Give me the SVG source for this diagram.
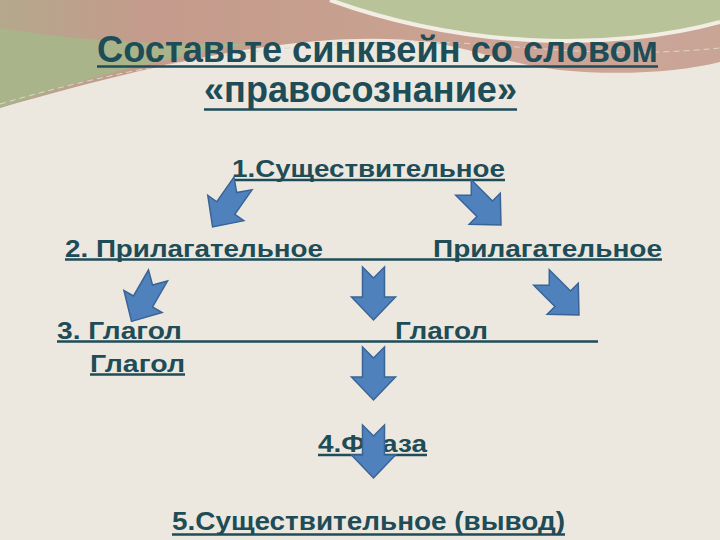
<svg xmlns="http://www.w3.org/2000/svg" xmlns:xlink="http://www.w3.org/1999/xlink" width="720" height="540" viewBox="0 0 720 540">
<style>
.t{font-family:"Liberation Sans",Arial,"DejaVu Sans",sans-serif;font-weight:bold;fill:#1e4c57}
.ttl{font-size:37px}
.lbl{font-size:23.5px}
.big{font-size:25px}
.ul{stroke:#1e4c57;stroke-width:2.5}
.arr{fill:#4f81bd;stroke:#3a6494;stroke-width:1.5;stroke-linejoin:miter}
</style>
<defs>
<linearGradient id="band" x1="0" y1="0" x2="1" y2="0">
<stop offset="0" stop-color="#b4a88c"/>
<stop offset="0.2" stop-color="#c49b8c"/>
<stop offset="0.5" stop-color="#c8a08f"/>
<stop offset="0.75" stop-color="#cda497"/>
<stop offset="1" stop-color="#c9a596"/>
</linearGradient>
<path id="arw" d="M-11,0 L0,11 L11,0 L11,30 L22,30 L0,53 L-22,30 L-11,30 Z"/>
</defs>
<rect width="720" height="540" fill="#ece8df"/>
<g id="background">
<path d="M0,0 H720 V62 C680,72 620,76 560,70 C500,62 470,48 430,42 C330,30 200,50 0,108 Z" fill="url(#band)"/>
<path d="M0,28 C70,40 150,45 250,44 C160,58 70,82 0,108 Z" fill="#aab48b"/>
<path d="M330,0 C380,18 450,36 530,40 C600,44 670,36 720,22 V0 Z" fill="#b8c39a"/>
<path d="M330,0 C380,18 450,36 530,40 C600,44 670,36 720,22" fill="none" stroke="#f2eee4" stroke-width="4"/>
<path d="M0,104 C150,60 300,40 430,42 C520,44 600,60 720,48" fill="none" stroke="#ddd6c8" stroke-width="1" stroke-dasharray="6 4"/>
</g>
<g id="title">
<text class="t ttl" x="97" y="62" textLength="561" lengthAdjust="spacingAndGlyphs">Составьте синквейн со словом</text>
<line class="ul" x1="97" y1="66.5" x2="658" y2="66.5"/>
<text class="t ttl" x="204" y="102" textLength="313" lengthAdjust="spacingAndGlyphs">«правосознание»</text>
<line class="ul" x1="204" y1="109.5" x2="517" y2="109.5"/>
</g>
<g id="noun1">
<text class="t lbl" x="232" y="176.5" textLength="273" lengthAdjust="spacingAndGlyphs">1.Существительное</text>
<line class="ul" x1="232" y1="180" x2="505" y2="180"/>
</g>
<g id="adj1">
<text class="t lbl" x="65" y="256.5" textLength="258" lengthAdjust="spacingAndGlyphs">2. Прилагательное</text>
<line class="ul" x1="65" y1="259.5" x2="433" y2="259.5"/>
</g>
<g id="adj2">
<text class="t lbl" x="433" y="256.5" textLength="229" lengthAdjust="spacingAndGlyphs">Прилагательное</text>
<line class="ul" x1="433" y1="259.5" x2="662" y2="259.5"/>
</g>
<g id="verb1">
<text class="t lbl" x="57" y="338.5" textLength="125" lengthAdjust="spacingAndGlyphs">3. Глагол</text>
<line class="ul" x1="57" y1="341.5" x2="395" y2="341.5"/>
</g>
<g id="verb2">
<text class="t lbl" x="395" y="338.5" textLength="93" lengthAdjust="spacingAndGlyphs">Глагол</text>
<line class="ul" x1="395" y1="341.5" x2="598" y2="341.5"/>
</g>
<g id="verb3">
<text class="t lbl" x="90" y="371.5" textLength="95" lengthAdjust="spacingAndGlyphs">Глагол</text>
<line class="ul" x1="90" y1="374.5" x2="185" y2="374.5"/>
</g>
<g id="phrase">
<text class="t lbl" x="318" y="451.5" textLength="109" lengthAdjust="spacingAndGlyphs">4.Фраза</text>
<line class="ul" x1="318" y1="455" x2="427" y2="455"/>
</g>
<g id="noun2">
<text class="t big" x="172" y="530" textLength="393" lengthAdjust="spacingAndGlyphs">5.Существительное (вывод)</text>
<line class="ul" x1="172" y1="534.5" x2="565" y2="534.5"/>
</g>
<g id="connectors">
<use xlink:href="#arw" class="arr" transform="translate(243,183.5) rotate(35)"/>
<use xlink:href="#arw" class="arr" transform="translate(463.5,187.5) rotate(-45)"/>
<use xlink:href="#arw" class="arr" transform="translate(158,275.5) rotate(30)"/>
<use xlink:href="#arw" class="arr" transform="translate(373.5,267)"/>
<use xlink:href="#arw" class="arr" transform="translate(541.5,277.5) rotate(-45)"/>
<use xlink:href="#arw" class="arr" transform="translate(373.5,347)"/>
<use xlink:href="#arw" class="arr" transform="translate(373.5,425)"/>
</g>
</svg>
